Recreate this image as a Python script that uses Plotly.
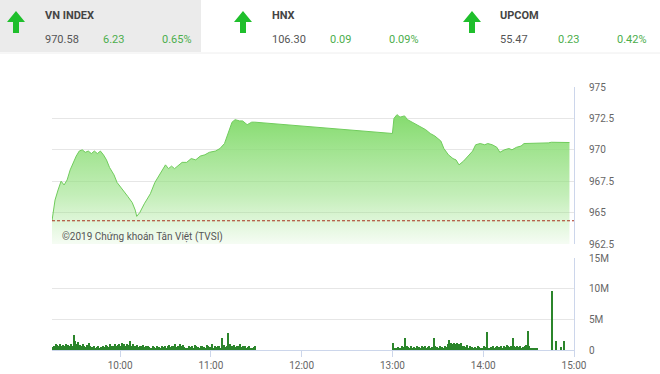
import plotly.graph_objects as go

W, H = 660, 374

# ---------------- data ----------------
ref_price = 964.35

price_times = [
    "09:15", "09:17", "09:19", "09:20", "09:21", "09:23", "09:24", "09:25", "09:27", "09:29",
    "09:31", "09:33", "09:35", "09:37", "09:39", "09:41", "09:43", "09:45", "09:47", "09:49",
    "09:51", "09:53", "09:56", "09:58", "10:02", "10:05", "10:08", "10:10", "10:11", "10:13",
    "10:16", "10:20", "10:23", "10:26", "10:30", "10:32", "10:34", "10:36", "10:39", "10:41",
    "10:44", "10:47", "10:50", "10:53", "10:56", "10:59", "11:03", "11:06", "11:09", "11:11",
    "11:14", "11:16", "11:19", "11:21", "11:24", "11:27", "11:29",
    "13:00", "13:01", "13:03", "13:05", "13:08", "13:10", "13:13", "13:16", "13:18", "13:22",
    "13:25", "13:28", "13:32", "13:34", "13:37", "13:40", "13:42", "13:44", "13:47", "13:50",
    "13:53", "13:55", "13:58", "14:01", "14:03", "14:06", "14:09", "14:11", "14:14", "14:17",
    "14:19", "14:22", "14:25", "14:27", "14:31", "14:38", "14:43", "14:45", "14:57",
]
price_values = [
    964.35, 966.0, 966.8, 967.2, 967.5, 967.2, 967.4, 967.6, 968.4, 969.0,
    969.5, 969.9, 970.0, 969.8, 969.9, 969.7, 969.9, 969.7, 969.9, 969.6,
    969.2, 968.6, 968.0, 967.4, 966.8, 966.3, 965.8, 965.2, 964.7, 965.0,
    965.7, 966.5, 967.4, 968.0, 968.8, 968.5, 968.7, 968.5, 968.8, 969.0,
    969.0, 969.3, 969.2, 969.5, 969.6, 969.8, 969.9, 970.1, 970.5, 971.2,
    972.2, 972.4, 972.3, 972.3, 972.0, 972.2, 972.2,
    971.3, 972.5, 972.8, 972.6, 972.7, 972.4, 972.2, 972.0, 971.8, 971.6,
    971.3, 971.1, 970.7, 970.1, 969.6, 969.3, 969.2, 968.8, 969.1, 969.5,
    969.9, 970.4, 970.5, 970.4, 970.5, 970.4, 970.2, 969.8, 970.0, 970.1,
    970.0, 970.2, 970.3, 970.5, 970.5, 970.5, 970.55, 970.6, 970.58,
]

# volume in millions, one bar per minute
vol_morning_start = "09:15"
vol_morning = [
    0.5, 0.7, 0.9, 0.8, 0.6, 0.9, 0.7, 0.8, 0.6, 1.0,
    0.8, 0.7, 0.9, 0.6, 2.4, 1.4, 0.9, 1.3, 0.8, 0.7,
    0.9, 0.6, 0.5, 0.8, 1.1, 0.6, 0.5, 0.7, 0.4, 0.5,
    0.6, 0.4, 0.5, 0.7, 0.5, 0.8, 0.6, 0.5, 0.9, 0.6,
    0.7, 1.0, 0.6, 0.8, 1.0, 0.7, 1.2, 0.9, 0.6, 1.0,
    0.8, 1.4, 0.6, 0.9, 0.7, 0.6, 0.8, 0.5, 0.7, 0.6,
    0.8, 0.5, 0.6, 0.7, 0.5, 0.4, 0.6, 0.5, 0.3, 0.6,
    0.5, 0.4, 0.6, 0.5, 0.7, 0.4, 0.6, 0.8, 0.5, 0.7,
    0.6, 0.9, 0.5, 0.7, 1.0, 0.6, 0.8, 0.5, 0.4, 0.3,
    0.6, 0.5, 0.7, 0.4, 0.8, 0.6, 0.5, 0.3, 0.6, 0.7,
    0.5, 0.4, 0.8, 0.6, 0.5, 0.9, 0.4, 0.6, 0.5, 0.7,
    0.6, 0.4, 2.0, 0.8, 0.5, 0.6, 2.8, 0.9, 0.6, 0.7,
    0.8, 0.5, 0.7, 0.6, 0.9, 0.5, 0.6, 0.7, 0.4, 0.5,
    0.6, 0.4, 0.3, 0.5, 0.6,
]
vol_afternoon_start = "13:00"
vol_afternoon = [
    1.1, 0.4, 0.3, 0.5, 0.4, 0.3, 0.6, 0.5, 2.0, 0.7,
    0.5, 0.4, 0.6, 0.3, 0.5, 0.4, 0.6, 0.5, 0.4, 0.7,
    0.5, 0.6, 0.4, 0.5, 0.6, 0.3, 0.5, 1.9, 0.6, 0.5,
    0.4, 0.6, 0.5, 0.4, 0.7, 0.5, 0.9, 1.6, 1.1, 1.0,
    1.2, 1.0, 1.1, 1.0, 0.9, 1.1, 0.7, 0.6, 0.5, 0.8,
    0.4, 0.6, 0.5, 0.3, 0.5, 0.4, 0.6, 0.5, 0.4, 0.3,
    0.6, 0.5, 3.0, 0.4, 0.3, 0.5, 0.6, 0.4, 0.5, 0.7,
    0.5, 0.6, 0.4, 0.7, 0.5, 0.8, 0.6, 0.5, 0.7, 1.9,
    0.6, 0.5, 0.7, 0.5, 0.6, 0.4, 0.5, 0.6, 0.8, 3.1,
    0.6, 0.4, 0.3, 0.2, 0.3, 0.2,
]
vol_close_times = ["14:45", "14:48", "14:51", "14:53"]
vol_close = [9.6, 1.4, 0.5, 1.5]

x_ticks = ["10:00", "11:00", "12:00", "13:00", "14:00", "15:00"]
price_ticks = [962.5, 965, 967.5, 970, 972.5, 975]
price_tick_text = ["962.5", "965", "967.5", "970", "972.5", "975"]
vol_ticks = [0, 5, 10, 15]
vol_tick_text = ["0", "5M", "10M", "15M"]

indices = [
    ("VN INDEX", "970.58", "6.23", "0.65%"),
    ("HNX", "106.30", "0.09", "0.09%"),
    ("UPCOM", "55.47", "0.23", "0.42%"),
]

DAY = "2019-01-02 "


def ts(t):
    return DAY + t + ":00"


def minute_series(start, n):
    h, m = map(int, start.split(":"))
    out = []
    for i in range(n):
        tot = h * 60 + m + i
        out.append(DAY + f"{tot // 60:02d}:{tot % 60:02d}:30")
    return out


vol_x = minute_series(vol_morning_start, len(vol_morning)) + \
    minute_series(vol_afternoon_start, len(vol_afternoon)) + \
    [DAY + t + ":30" for t in vol_close_times]
vol_y = vol_morning + vol_afternoon + vol_close

# ---------------- figure ----------------
def px(x):
    return x / W


def py(y):
    return 1 - y / H


fig = go.Figure()

fig.add_trace(go.Scatter(
    x=[ts(t) for t in price_times], y=price_values,
    mode="lines", line=dict(color="rgb(112,204,92)", width=1),
    fill="tozeroy",
    fillgradient=dict(type="vertical", start=962.5, stop=972.5,
                      colorscale=[[0, "rgba(150,225,130,0.08)"],
                                  [0.4, "rgba(146,224,126,0.55)"],
                                  [1, "rgba(136,220,114,1.0)"]]),
    xaxis="x", yaxis="y", hoverinfo="skip", showlegend=False,
))

fig.add_trace(go.Bar(
    x=vol_x, y=vol_y, width=48000,
    marker=dict(color="#2b852b", line=dict(width=0)),
    xaxis="x2", yaxis="y2", hoverinfo="skip", showlegend=False,
))

xr = [ts("09:15"), ts("15:00")]
xdom = [px(52), px(574)]
tickfont = dict(family="Roboto", size=10, color="#666666")
grid = "#e6e6e6"
axline = "#ccd6eb"

fig.update_layout(
    width=W, height=H, margin=dict(l=0, r=0, t=0, b=0),
    paper_bgcolor="white", plot_bgcolor="white",
    bargap=0,
    xaxis=dict(domain=xdom, range=xr, type="date", showticklabels=False,
               showgrid=False, zeroline=False, anchor="y", fixedrange=True,
               automargin=False),
    yaxis=dict(domain=[py(244), py(87)], range=[962.5, 975], side="right",
               tickvals=price_ticks, ticktext=price_tick_text,
               showgrid=True, gridcolor=grid, gridwidth=1, zeroline=False,
               showline=True, linecolor=axline, linewidth=1, mirror=False,
               ticks="", ticklabelstandoff=12, tickfont=tickfont, anchor="x",
               automargin=False),
    xaxis2=dict(domain=xdom, range=xr, type="date",
                tickvals=[ts(t) for t in x_ticks], ticktext=x_ticks,
                showgrid=False, zeroline=False, showline=True, linecolor=axline,
                ticks="outside", ticklen=6, tickcolor=axline,
                tickfont=tickfont, anchor="y2", automargin=False),
    yaxis2=dict(domain=[py(350), py(258)], range=[0, 15], side="right",
                tickvals=vol_ticks, ticktext=vol_tick_text,
                showgrid=True, gridcolor=grid, zeroline=False,
                showline=True, linecolor=axline, linewidth=1,
                ticks="", ticklabelstandoff=12, tickfont=tickfont, anchor="x2",
                automargin=False),
)

shapes = []
annotations = []
# header background
shapes.append(dict(type="rect", xref="paper", yref="paper",
                   x0=0, x1=px(201), y0=py(52), y1=1,
                   fillcolor="#ebebeb", line=dict(width=0), layer="below"))
shapes.append(dict(type="line", xref="paper", yref="paper",
                   x0=0, x1=1, y0=py(53), y1=py(53),
                   line=dict(color="#eeeeee", width=1)))

arrow_x = [16, 243, 472]
label_x = [43, 270, 498]
for i, (name, val, chg, pct) in enumerate(indices):
    cx = arrow_x[i]
    pts = [(cx, 11), (cx + 9, 22), (cx + 3, 22), (cx + 3, 33),
           (cx - 3, 33), (cx - 3, 22), (cx - 9, 22)]
    path = "M " + " L ".join(f"{px(a):.5f},{py(b):.5f}" for a, b in pts) + " Z"
    shapes.append(dict(type="path", xref="paper", yref="paper", path=path,
                       fillcolor="#1fbf2c", line=dict(width=0)))
    lx = label_x[i]
    annotations.append(dict(text=f"<b>{name}</b>", x=px(lx), y=py(15),
                            xref="paper", yref="paper", xanchor="left", yanchor="middle",
                            showarrow=False,
                            font=dict(family="Roboto", size=11, color="#444444")))
    annotations.append(dict(text=val, x=px(lx), y=py(40), xref="paper", yref="paper",
                            xanchor="left", yanchor="middle", showarrow=False,
                            font=dict(family="Roboto", size=11, color="#555555")))
    annotations.append(dict(text=chg, x=px(lx + 58), y=py(40), xref="paper", yref="paper",
                            xanchor="left", yanchor="middle", showarrow=False,
                            font=dict(family="Roboto", size=11, color="#4cae4c")))
    annotations.append(dict(text=pct, x=px(lx + 117), y=py(40), xref="paper", yref="paper",
                            xanchor="left", yanchor="middle", showarrow=False,
                            font=dict(family="Roboto", size=11, color="#4cae4c")))

# reference (previous close) line
shapes.append(dict(type="line", xref="x domain", yref="y",
                   x0=0, x1=1, y0=ref_price, y1=ref_price,
                   line=dict(color="#a8321f", width=1, dash="3px,2px")))

annotations.append(dict(text="©2019 Chứng khoán Tân Việt (TVSI)", x=px(60), y=py(237),
                        xref="paper", yref="paper", xanchor="left", yanchor="middle",
                        showarrow=False,
                        font=dict(family="Roboto", size=10, color="#555555")))

fig.update_layout(shapes=shapes, annotations=annotations)
fig.write_html("out.html")
